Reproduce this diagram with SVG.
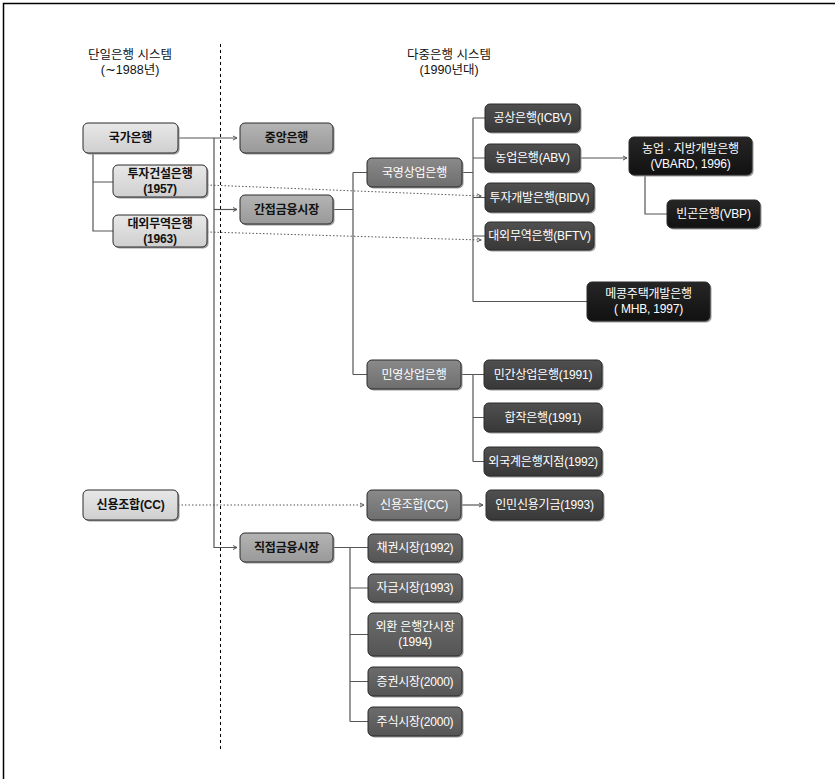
<svg xmlns="http://www.w3.org/2000/svg" width="835" height="779" viewBox="0 0 835 779">
<style>
text{font-family:"Liberation Sans","Noto Sans CJK KR",sans-serif;font-size:12px;text-anchor:middle;dominant-baseline:central;letter-spacing:-0.2px}
.hd{font-size:12.5px;fill:#111;letter-spacing:0}
.box{stroke:#2a2a2a;stroke-width:1}
.sh{fill:#9a9a9a}
.l{fill:url(#gL)}
.m{fill:url(#gM)}
.dm{fill:url(#gDM)}
.d{fill:url(#gD)}
.mk{fill:url(#gMk)}
.b{fill:url(#gB)}
.tb{fill:#111;font-weight:bold}
.tw{fill:#fff}
.con{fill:none;stroke:#555;stroke-width:1.2}
.dot{fill:none;stroke:#555;stroke-width:1;stroke-dasharray:1.5 2}
</style>
<defs>
<linearGradient id="gL" x1="0" y1="0" x2="0" y2="1"><stop offset="0" stop-color="#e8e8e8"/><stop offset="1" stop-color="#cfcfcf"/></linearGradient>
<linearGradient id="gM" x1="0" y1="0" x2="0" y2="1"><stop offset="0" stop-color="#b4b4b4"/><stop offset="1" stop-color="#999"/></linearGradient>
<linearGradient id="gDM" x1="0" y1="0" x2="0" y2="1"><stop offset="0" stop-color="#8a8a8a"/><stop offset="1" stop-color="#6e6e6e"/></linearGradient>
<linearGradient id="gD" x1="0" y1="0" x2="0" y2="1"><stop offset="0" stop-color="#505050"/><stop offset="1" stop-color="#383838"/></linearGradient>
<linearGradient id="gMk" x1="0" y1="0" x2="0" y2="1"><stop offset="0" stop-color="#6c6c6c"/><stop offset="1" stop-color="#555"/></linearGradient>
<linearGradient id="gB" x1="0" y1="0" x2="0" y2="1"><stop offset="0" stop-color="#262626"/><stop offset="1" stop-color="#111"/></linearGradient>
<marker id="arr" markerWidth="6" markerHeight="6" refX="5" refY="3" orient="auto" markerUnits="userSpaceOnUse"><path d="M1,1 L5,3 L1,5" fill="none" stroke="#555" stroke-width="1"/></marker>
</defs>

<path d="M3.5,779 V3.5 H835" fill="none" stroke="#000" stroke-width="1.5"/>
<path d="M220.5,44 V750" fill="none" stroke="#000" stroke-width="1" stroke-dasharray="3 3"/>

<g id="headers">
<text class="hd" x="130" y="55">단일은행 시스템</text>
<text class="hd" x="130" y="70">(∼1988년)</text>
<text class="hd" x="449" y="55">다중은행 시스템</text>
<text class="hd" x="449" y="70">(1990년대)</text>
</g>

<g id="connectors">
<path class="con" d="M178,138 H237" marker-end="url(#arr)"/>
<path class="con" d="M214,138 V547.5 H237" marker-end="url(#arr)"/>
<path class="con" d="M214,209.5 H237" marker-end="url(#arr)"/>
<path class="con" d="M93,153 V231 H113 M93,182 H113"/>
<path class="dot" d="M207,185 L481,196" marker-end="url(#arr)"/>
<path class="dot" d="M207,232 L481,240" marker-end="url(#arr)"/>
<path class="con" d="M333,209.5 H353 M353,172.5 V374.5 M353,172.5 H367 M353,374.5 H367"/>
<path class="con" d="M462,172.5 H473 M473,118 V301.5 M473,118 H485 M473,158 H485 M473,197.5 H485 M473,236 H485 M473,301.5 H587"/>
<path class="con" d="M580,158 H627" marker-end="url(#arr)"/>
<path class="con" d="M645,175 V214 H667"/>
<path class="con" d="M461,374.5 H484 M473,374.5 V461.5 M473,417.5 H484 M473,461.5 H484"/>
<path class="dot" d="M178,505 H364" marker-end="url(#arr)"/>
<path class="con" d="M461,505 H483" marker-end="url(#arr)"/>
<path class="con" d="M333,547.5 H368 M350,547.5 V721.5 M350,588 H368 M350,634.5 H368 M350,681.5 H368 M350,721.5 H368"/>
</g>

<g id="n-gukga"><rect class="sh" x="84.5" y="124.5" width="95" height="30" rx="5"/><rect class="box l" x="83" y="123" width="95" height="30" rx="5"/><text class="tb" x="130.5" y="138">국가은행</text></g>
<g id="n-tuja-gs"><rect class="sh" x="114.5" y="166.5" width="94" height="32" rx="5"/><rect class="box l" x="113" y="165" width="94" height="32" rx="5"/><text class="tb" x="160" y="174">투자건설은행</text><text class="tb" x="160" y="189">(1957)</text></g>
<g id="n-daeoe-old"><rect class="sh" x="114.5" y="216.5" width="94" height="32" rx="5"/><rect class="box l" x="113" y="215" width="94" height="32" rx="5"/><text class="tb" x="160" y="224">대외무역은행</text><text class="tb" x="160" y="239">(1963)</text></g>
<g id="n-cc-old"><rect class="sh" x="84.5" y="491.5" width="95" height="30" rx="5"/><rect class="box l" x="83" y="490" width="95" height="30" rx="5"/><text class="tb" x="130.5" y="505">신용조합(CC)</text></g>

<g id="n-central"><rect class="sh" x="241.5" y="124.5" width="93" height="30" rx="5"/><rect class="box m" x="240" y="123" width="93" height="30" rx="5"/><text class="tb" x="286.5" y="138">중앙은행</text></g>
<g id="n-indirect"><rect class="sh" x="241.5" y="196.5" width="93" height="29" rx="5"/><rect class="box m" x="240" y="195" width="93" height="29" rx="5"/><text class="tb" x="286.5" y="209.5">간접금융시장</text></g>
<g id="n-direct"><rect class="sh" x="241.5" y="534.5" width="93" height="29" rx="5"/><rect class="box m" x="240" y="533" width="93" height="29" rx="5"/><text class="tb" x="286.5" y="547.5">직접금융시장</text></g>

<g id="n-state"><rect class="sh" x="368.5" y="159.5" width="95" height="29" rx="5"/><rect class="box dm" x="367" y="158" width="95" height="29" rx="5"/><text class="tw" x="414.5" y="172.5">국영상업은행</text></g>
<g id="n-private"><rect class="sh" x="368.5" y="361.5" width="94" height="29" rx="5"/><rect class="box dm" x="367" y="360" width="94" height="29" rx="5"/><text class="tw" x="414" y="374.5">민영상업은행</text></g>
<g id="n-cc-new"><rect class="sh" x="368.5" y="491.5" width="94" height="30" rx="5"/><rect class="box dm" x="367" y="490" width="94" height="30" rx="5"/><text class="tw" x="414" y="505">신용조합(CC)</text></g>

<g id="n-icbv"><rect class="sh" x="486.5" y="105.5" width="95" height="28" rx="5"/><rect class="box d" x="485" y="104" width="95" height="28" rx="5"/><text class="tw" x="532.5" y="118">공상은행(ICBV)</text></g>
<g id="n-abv"><rect class="sh" x="486.5" y="145.5" width="95" height="28" rx="5"/><rect class="box d" x="485" y="144" width="95" height="28" rx="5"/><text class="tw" x="532.5" y="158">농업은행(ABV)</text></g>
<g id="n-bidv"><rect class="sh" x="486.5" y="184.5" width="109" height="29" rx="5"/><rect class="box d" x="485" y="183" width="109" height="29" rx="5"/><text class="tw" x="539.5" y="197.5">투자개발은행(BIDV)</text></g>
<g id="n-bftv"><rect class="sh" x="486.5" y="223.5" width="109" height="28" rx="5"/><rect class="box d" x="485" y="222" width="109" height="28" rx="5"/><text class="tw" x="539.5" y="236">대외무역은행(BFTV)</text></g>
<g id="n-mingan"><rect class="sh" x="485.5" y="361.5" width="118" height="29" rx="5"/><rect class="box d" x="484" y="360" width="118" height="29" rx="5"/><text class="tw" x="543" y="374.5">민간상업은행(1991)</text></g>
<g id="n-jv"><rect class="sh" x="485.5" y="404.5" width="118" height="29" rx="5"/><rect class="box d" x="484" y="403" width="118" height="29" rx="5"/><text class="tw" x="543" y="417.5">합작은행(1991)</text></g>
<g id="n-foreign"><rect class="sh" x="485.5" y="448.5" width="118" height="29" rx="5"/><rect class="box d" x="484" y="447" width="118" height="29" rx="5"/><text class="tw" x="543" y="461.5">외국계은행지점(1992)</text></g>
<g id="n-people"><rect class="sh" x="487.5" y="491.5" width="117" height="30" rx="5"/><rect class="box d" x="486" y="490" width="117" height="30" rx="5"/><text class="tw" x="544.5" y="505">인민신용기금(1993)</text></g>

<g id="n-bond"><rect class="sh" x="369.5" y="535.5" width="94" height="28" rx="5"/><rect class="box mk" x="368" y="534" width="94" height="28" rx="5"/><text class="tw" x="415" y="548">채권시장(1992)</text></g>
<g id="n-money"><rect class="sh" x="369.5" y="575.5" width="94" height="28" rx="5"/><rect class="box mk" x="368" y="574" width="94" height="28" rx="5"/><text class="tw" x="415" y="588">자금시장(1993)</text></g>
<g id="n-fx"><rect class="sh" x="369.5" y="614.5" width="94" height="43" rx="5"/><rect class="box mk" x="368" y="613" width="94" height="43" rx="5"/><text class="tw" x="415" y="627">외환 은행간시장</text><text class="tw" x="415" y="642">(1994)</text></g>
<g id="n-sec"><rect class="sh" x="369.5" y="668.5" width="94" height="29" rx="5"/><rect class="box mk" x="368" y="667" width="94" height="29" rx="5"/><text class="tw" x="415" y="681.5">증권시장(2000)</text></g>
<g id="n-stock"><rect class="sh" x="369.5" y="708.5" width="94" height="29" rx="5"/><rect class="box mk" x="368" y="707" width="94" height="29" rx="5"/><text class="tw" x="415" y="721.5">주식시장(2000)</text></g>

<g id="n-vbard"><rect class="sh" x="630.5" y="138.5" width="123" height="38" rx="5"/><rect class="box b" x="629" y="137" width="123" height="38" rx="5"/><text class="tw" x="690.5" y="149">농업 · 지방개발은행</text><text class="tw" x="690.5" y="164">(VBARD, 1996)</text></g>
<g id="n-vbp"><rect class="sh" x="668.5" y="201.5" width="93" height="28" rx="5"/><rect class="box b" x="667" y="200" width="93" height="28" rx="5"/><text class="tw" x="713.5" y="214">빈곤은행(VBP)</text></g>
<g id="n-mhb"><rect class="sh" x="588.5" y="283.5" width="123" height="39" rx="5"/><rect class="box b" x="587" y="282" width="123" height="39" rx="5"/><text class="tw" x="648.5" y="294">메콩주택개발은행</text><text class="tw" x="648.5" y="309">( MHB, 1997)</text></g>
</svg>
